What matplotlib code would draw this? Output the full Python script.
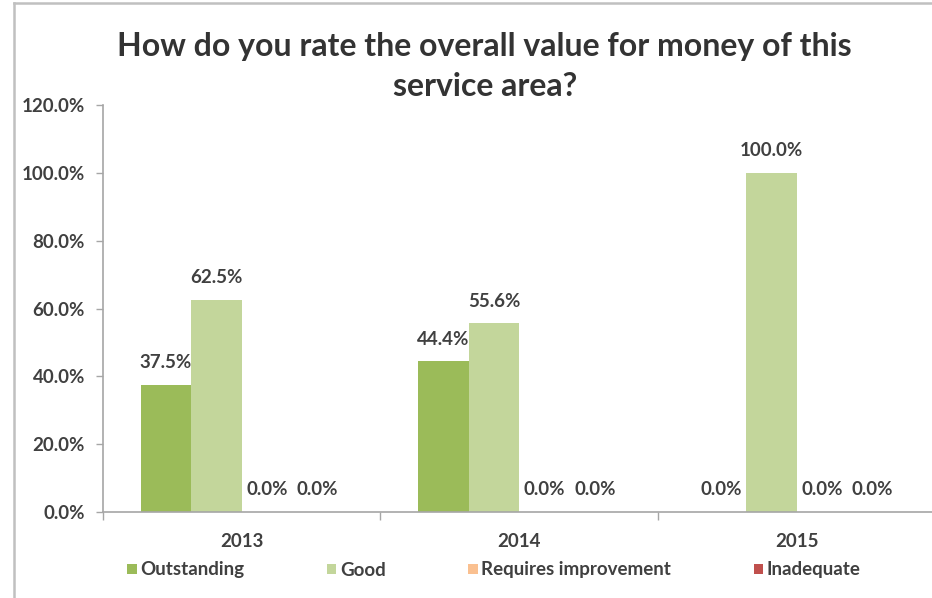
import matplotlib.pyplot as plt
from matplotlib.lines import Line2D
from matplotlib.patches import Patch
import numpy as np

plt.rcParams['font.family'] = ['Lato', 'DejaVu Sans']
plt.rcParams['font.weight'] = 'bold'

# ====== Survey results ======
years = ['2013', '2014', '2015']
ratings = ['Outstanding', 'Good', 'Requires improvement', 'Inadequate']
outstanding = [37.5, 44.4, 0.0]
good = [62.5, 55.6, 100.0]
requires_improvement = [0.0, 0.0, 0.0]
inadequate = [0.0, 0.0, 0.0]
yticks = [0, 20, 40, 60, 80, 100, 120]

series = [outstanding, good, requires_improvement, inadequate]
colors = ['#9BBB59', '#C3D69B', '#FAC090', '#C0504D']
text_col = '#404040'
axis_col = '#A6A6A6'
fs = 13.5

fig = plt.figure(figsize=(9.32, 5.98), dpi=100)
ax = fig.add_axes([103 / 932, 1 - 512 / 598, 832.5 / 932, 407 / 598])

x = np.arange(len(years))
w = 0.182
for i, (vals, col) in enumerate(zip(series, colors)):
    pos = x + (i - 1.5) * w
    bars = ax.bar(pos, vals, width=w, color=col, align='center', zorder=2)
    for b, v in zip(bars, vals):
        ax.annotate(f'{v:.1f}%', (b.get_x() + b.get_width() / 2, v),
                    xytext=(0, 16), textcoords='offset points',
                    ha='center', va='center', fontsize=fs,
                    fontweight='bold', color=text_col)

ax.set_xlim(-0.5, 2.5)
ax.set_ylim(0, 120)
ax.set_yticks(yticks)
ax.set_yticklabels([f'{t:.1f}%' for t in yticks])
ax.set_xticks(x)
ax.set_xticklabels(years)
ax.set_xticks([-0.5, 0.5, 1.5, 2.5], minor=True)

for s in ['top', 'right']:
    ax.spines[s].set_visible(False)
for s in ['left', 'bottom']:
    ax.spines[s].set_color(axis_col)
    ax.spines[s].set_linewidth(1.2)

ax.tick_params(axis='y', length=5, width=1, color=axis_col, pad=8,
               labelsize=fs, labelcolor=text_col)
ax.tick_params(axis='x', which='major', length=0, pad=15,
               labelsize=fs, labelcolor=text_col)
ax.tick_params(axis='x', which='minor', length=6, width=1, color=axis_col)

fig.text(0.52, 1 - 66.5 / 598, 'How do you rate the overall value for money of this\nservice area?',
         ha='center', va='center', fontsize=23, fontweight='bold',
         color='#333333', linespacing=1.45)

handles = [Patch(facecolor=c, edgecolor='none') for c in colors]
fig.legend(handles, ratings, loc='center', bbox_to_anchor=(0.53, 1 - 570 / 598),
           ncol=4, frameon=False, fontsize=fs, handlelength=0.5,
           handleheight=0.5, handletextpad=0.2, columnspacing=4.4,
           labelcolor=text_col)

# chart area border (left and top edges)
fig.add_artist(Line2D([14 / 932, 14 / 932], [0, 1 - 3 / 598],
                      transform=fig.transFigure, color='#C0C0C0', lw=1.8))
fig.add_artist(Line2D([14 / 932, 1], [1 - 3 / 598, 1 - 3 / 598],
                      transform=fig.transFigure, color='#C0C0C0', lw=1.8))

fig.savefig('out.png', dpi=100, facecolor='white')
